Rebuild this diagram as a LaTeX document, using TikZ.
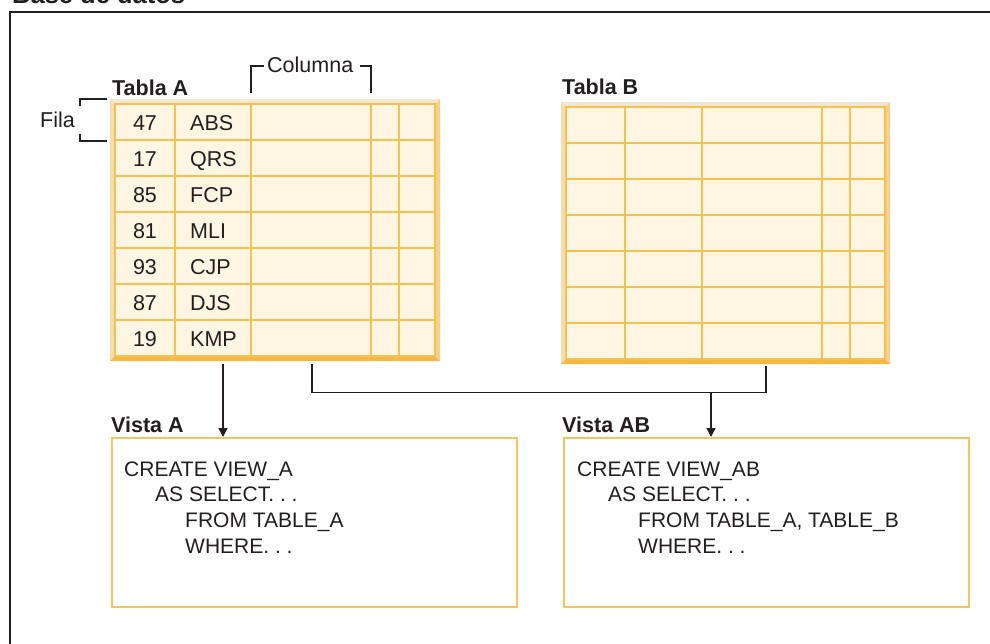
\documentclass[tikz,border=0pt]{standalone}
\usepackage{fontspec}
\setmainfont{Liberation Sans}
\usetikzlibrary{arrows.meta}
\frenchspacing
\definecolor{ink}{HTML}{231F20}
\definecolor{bevT}{HTML}{F3E7D3}
\definecolor{bevL}{HTML}{F4DDB1}
\definecolor{bevR}{HTML}{F6D08C}
\definecolor{bevB}{HTML}{F5B844}
\definecolor{cell}{HTML}{FEF6E2}
\definecolor{gridc}{HTML}{F6C24F}
\definecolor{boxc}{HTML}{F6C45E}
\tikzset{
  txt/.style={inner sep=0pt, text=ink, font=\fontsize{21.5}{25}\selectfont},
  code/.style={inner sep=0pt, text=ink, font=\fontsize{21}{25}\selectfont},
  lbl/.style={inner sep=0pt, text=ink, font=\fontsize{21.5}{25}\selectfont\bfseries},
  conn/.style={draw=ink, line width=1.3pt},
  arr/.style={conn, -{Triangle[length=9pt,width=9pt]}},
  vbox/.style={draw=boxc, line width=1.6pt, inner sep=0pt, fill=white, anchor=north west},
  gridl/.style={draw=gridc, line width=1.4pt},
  tabbox/.style={inner sep=0pt, anchor=north west},
}
\begin{document}
\begin{tikzpicture}[x=1pt,y=-1pt]
\useasboundingbox (0,0) rectangle (990,643);
\clip (0,0) rectangle (990,643);

% outer frame and title
\draw[conn] (10,700) -- (10,12) -- (1000,12);
\node[inner sep=0pt, text=ink, font=\fontsize{25.5}{30}\selectfont\bfseries, anchor=base west] (title) at (12,3) {Base de datos};

% ---- Table A ----
\node[tabbox, minimum width=330pt, minimum height=262pt] (tA) at (110,99) {};
\fill[bevT] (110,99) -- (440,99) -- (435,104) -- (115,104) -- cycle;
\fill[bevL] (110,99) -- (115,104) -- (115,356) -- (110,361) -- cycle;
\fill[bevR] (440,99) -- (440,361) -- (435,356) -- (435,104) -- cycle;
\fill[bevB] (110,361) -- (440,361) -- (435,356) -- (115,356) -- cycle;
\filldraw[fill=cell, gridl] (115,104) rectangle (435,356);
\foreach \x in {175,251,371,399} \draw[gridl] (\x,104) -- (\x,356);
\foreach \y in {140,176,212,248,284,320} \draw[gridl] (115,\y) -- (435,\y);
\foreach \n/\c [count=\i] in {47/ABS,17/QRS,85/FCP,81/MLI,93/CJP,87/DJS,19/KMP} {
  \node[txt, anchor=base] (na\i) at (145,{94+36*\i}) {\n};
  \node[txt, anchor=base west] (ca\i) at (190,{94+36*\i}) {\c};
}
\node[lbl, anchor=base west] (labA) at (112,95) {Tabla A};

% ---- Table B ----
\node[tabbox, minimum width=329pt, minimum height=262pt] (tB) at (561,102) {};
\fill[bevT] (561,102) -- (890,102) -- (885,107) -- (566,107) -- cycle;
\fill[bevL] (561,102) -- (566,107) -- (566,359) -- (561,364) -- cycle;
\fill[bevR] (890,102) -- (890,364) -- (885,359) -- (885,107) -- cycle;
\fill[bevB] (561,364) -- (890,364) -- (885,359) -- (566,359) -- cycle;
\filldraw[fill=cell, gridl] (566,107) rectangle (885,359);
\foreach \x in {625,702,822,850} \draw[gridl] (\x,107) -- (\x,359);
\foreach \y in {143,179,215,251,287,323} \draw[gridl] (566,\y) -- (885,\y);
\node[lbl, anchor=base west] (labB) at (562,94) {Tabla B};

% ---- Fila / Columna brackets ----
\node[txt, anchor=base east] (fila) at (75,127.5) {Fila};
\draw[conn] (107,99) -- (80,99) -- (80,106);
\draw[conn] (80,134) -- (80,141) -- (107,141);
\node[txt, anchor=base west] (col) at (267,72) {Columna};
\draw[conn] (251,93) -- (251,66) -- (264,66);
\draw[conn] (360,66) -- (371,66) -- (371,93);

% ---- Views ----
\node[vbox, minimum width=405pt, minimum height=169pt] (vA) at (111,437) {};
\node[lbl, anchor=base west] (labVA) at (111,432.7) {Vista A};
\node[code, anchor=base west] (a1) at (124,476) {CREATE VIEW\_A};
\node[code, anchor=base west] (a2) at (155,501.7) {AS SELECT. . .};
\node[code, anchor=base west] (a3) at (185,527) {FROM TABLE\_A};
\node[code, anchor=base west] (a4) at (185,553) {WHERE. . .};

\node[vbox, minimum width=405pt, minimum height=169pt] (vAB) at (563,437) {};
\node[lbl, anchor=base west] (labVAB) at (562,432.7) {Vista AB};
\node[code, anchor=base west] (b1) at (577,476) {CREATE VIEW\_AB};
\node[code, anchor=base west] (b2) at (608,501.7) {AS SELECT. . .};
\node[code, anchor=base west] (b3) at (638,527) {FROM TABLE\_A, TABLE\_B};
\node[code, anchor=base west] (b4) at (638,553) {WHERE. . .};

% ---- connectors ----
\coordinate (xA) at (223,0);
\coordinate (xA2) at (312,0);
\coordinate (xB) at (766,0);
\coordinate (xAB) at (711,0);
\coordinate (jy) at (0,392.5);
\draw[arr, shorten <=2.5pt] (tA.south -| xA) -- (vA.north -| xA);
\draw[conn, shorten <=3pt, shorten >=1.5pt] (tA.south -| xA2) -- (xA2 |- jy) -- (xB |- jy) -- (tB.south -| xB);
\draw[arr] (xAB |- jy) -- (vAB.north -| xAB);
\end{tikzpicture}
\end{document}
